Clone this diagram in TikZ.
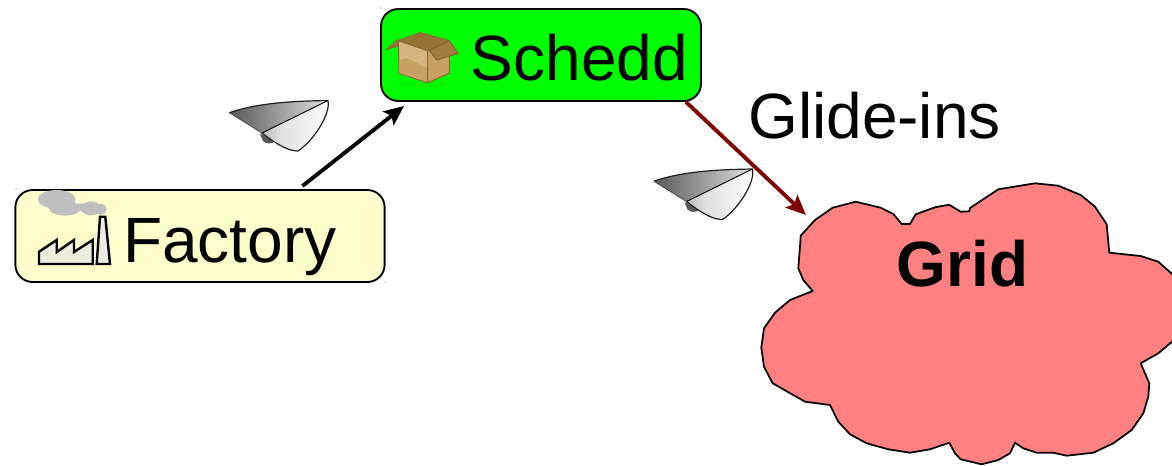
\documentclass[tikz,border=0pt]{standalone}
\usepackage{fontspec}
\setmainfont{Liberation Sans}
\usetikzlibrary{arrows.meta}

\definecolor{factoryfill}{RGB}{255,255,204}
\definecolor{scheddfill}{RGB}{0,255,0}
\definecolor{gridfill}{RGB}{255,128,128}
\definecolor{gridarrow}{RGB}{128,0,0}
\definecolor{smokegray}{RGB}{191,191,191}
\definecolor{plantfill}{RGB}{238,236,220}
\definecolor{cartonedge}{RGB}{138,106,50}
\definecolor{cartonlight}{RGB}{214,180,130}
\definecolor{cartonside}{RGB}{200,160,100}
\definecolor{cartondark}{RGB}{150,115,55}

\tikzset{
  roundbox/.style={draw=black,line width=1.4pt,rounded corners=13pt,minimum height=69pt,inner sep=0pt},
  bigtext/.style={anchor=base west,inner sep=0pt,font=\fontsize{48}{56}\selectfont},
  flow/.style={line width=2.9pt,-{Stealth[length=15pt,width=13pt,inset=3pt]}},
  speck/.style={fill=gray,inner sep=0pt,minimum size=0.9pt,shape=circle},
  paperplane/.pic={
    %Tail
    \fill[gray!70!black] (40,44) -- (43,51) .. controls (46,54) and (51,54) .. (54,52) -- (52,46) -- cycle ;
    %Lower wing
    \shade[left color=gray!90!black,right color=white,middle color=white!75!gray] (9.3,22.7) -- (42,43) -- (108,10.5) .. controls (111,25) and (92,52) .. (78,61) .. controls (70,61) and (62,57) .. (50,49) -- cycle ;
    %Upper wing
    \shade[left color=gray!70!black,right color=gray!25] (9.3,22.7) .. controls (40,12) and (80,11) .. (108,10.5) -- (42,43) -- cycle ;
    \draw[gray!25!black,line width=0.9pt,line join=round] (9.3,22.7) .. controls (40,12) and (80,11) .. (108,10.5) .. controls (111,25) and (92,52) .. (78,61) .. controls (70,61) and (60,57) .. (42,43) ;
    \draw[gray!60!black,line width=0.5pt] (9.3,22.7) -- (42,43) ;
    \draw[black,line width=0.7pt] (42,43) -- (108,10.5) ;
  }
}

\begin{document}
\begin{tikzpicture}[x=0.75pt,y=0.75pt,yscale=-1,xscale=1]
\path[clip,use as bounding box] (0,0) rectangle (1172,465);

%Shape: Cloud
\draw[fill=gridfill,line width=1.3pt,line join=round] (800.7,235.7) -- (815,220) -- (832.7,207.7) -- (855.7,201.7) -- (880.7,207.7) -- (893.3,214) -- (901.7,224) -- (910,224) -- (915.7,214.3) -- (935,207.3) -- (949,204.7) -- (960.7,211.7) -- (969.3,211.3) -- (970,208) -- (998.3,189.3) -- (1035,183.3) -- (1058.3,185.7) -- (1080.7,195) -- (1095,206.7) -- (1106.7,224.3) -- (1109.3,252.7) -- (1140.7,256) -- (1158.3,261.7) -- (1172,274) -- (1185,290) -- (1190,315) -- (1185,332) -- (1172,341.7) -- (1158.3,353.3) -- (1140.7,363.3) -- (1149.3,383.3) -- (1148.3,396.7) -- (1143.3,413.3) -- (1131.7,430) -- (1113.3,443.3) -- (1093.3,452.7) -- (1066.7,455.7) -- (1053.3,452.7) -- (1036.7,452.7) -- (1023.3,448.3) -- (1015,442.7) -- (1010,453.3) -- (998.3,460) -- (981.7,464.3) -- (960.7,459.3) -- (955,453.3) -- (949.3,442.7) -- (930,449.3) -- (910,452.7) -- (888.3,449.3) -- (866.7,443.3) -- (850,434.3) -- (838.3,421.7) -- (830,405) -- (805,401.7) -- (772.7,383.3) -- (764,366.7) -- (761.3,347.7) -- (764,328.3) -- (775,312.7) -- (790,300) -- (812.7,291) -- (803.3,280) -- (798.3,268.3) -- (800,246.7) -- cycle ;

%Shape: Rounded boxes
\node[roundbox,fill=factoryfill,minimum width=277pt] (factory) at (200,236) {};
\node[roundbox,fill=scheddfill,minimum width=240pt] (schedd) at (541,55) {};

%Smoke
\fill[smokegray] (56.7,199.3) ellipse (19 and 9.3);
\fill[smokegray] (65,208.3) ellipse (16 and 7.3);
\fill[smokegray] (81.7,207.3) ellipse (7 and 4);
\fill[smokegray] (91,208.3) ellipse (10 and 7);
\fill[smokegray] (100.7,209.3) ellipse (6 and 5.5);
%Plant
\draw[fill=plantfill,line width=1.8pt,miter limit=4] (39,264) -- (39,251.7) -- (56.7,240) -- (56.7,252) -- (74,240) -- (74,252) -- (92.7,240) -- (92.7,264) -- cycle ;
\draw[fill=plantfill,line width=1.8pt] (96.7,264) -- (100,216.7) -- (105.3,216.7) -- (110,264) -- cycle ;

%Carton
\fill[black,opacity=0.04] (424,84) ellipse (30 and 3.5);
\draw[fill=cartondark,draw=cartonedge,line width=0.8pt,line join=round] (398.3,40.7) -- (420,32.7) -- (449.3,40.7) -- (427.7,50.7) -- cycle ;
\draw[fill=cartondark,draw=cartonedge,line width=0.8pt,line join=round] (398.3,39.5) -- (386.5,49.3) -- (398.3,46) -- cycle ;
\draw[fill=cartonlight,draw=cartonedge,line width=0.8pt,line join=round] (398.3,40.7) -- (427.7,50.7) -- (427.7,82.7) -- (399,73.3) -- cycle ;
\fill[cartonside] (398.8,62) .. controls (406,52) and (418,66) .. (427.2,68) -- (427.2,82) -- (399.3,73) -- cycle ;
\draw[fill=cartonside,draw=cartonedge,line width=0.8pt,line join=round] (427.7,50.7) -- (449.3,40.7) -- (449.3,73.3) -- (427.7,82.7) -- cycle ;
\draw[fill=cartondark!80!cartonside,draw=cartonedge,line width=0.8pt,line join=round] (429.3,50.7) -- (449.3,40.7) -- (458.3,53.3) -- (436.7,60) -- cycle ;

%Straight Lines
\draw[flow,black] ([shift={(288,-3)}]factory.north west) -- ([shift={(24,4)}]schedd.south west);
\coordinate (gridin) at (806,215);
\draw[flow,gridarrow] ([shift={(-16,0)}]schedd.south east) -- (gridin);

%Planes
\pic[transform shape] at (220,90) {paperplane};
\pic[transform shape] at (644.5,158.5) {paperplane};

%Specks
\foreach \spx/\spy/\spname in {16/189/a,385/282/b,381/8/c,701/101/d,762/183/e}
  \node[speck] (speck\spname) at (\spx,\spy) {};

% Text Node
\node[bigtext] (factorylabel) at (123,262) {Factory};
% Text Node
\node[bigtext] (scheddlabel) at (470.5,80) {Schedd};
% Text Node
\node[bigtext] (glideins) at (748,138.5) {Glide-ins};
% Text Node
\node[bigtext,font=\fontsize{48}{56}\selectfont\bfseries] (grid) at (896.5,286) {Grid};
\end{tikzpicture}
\end{document}
